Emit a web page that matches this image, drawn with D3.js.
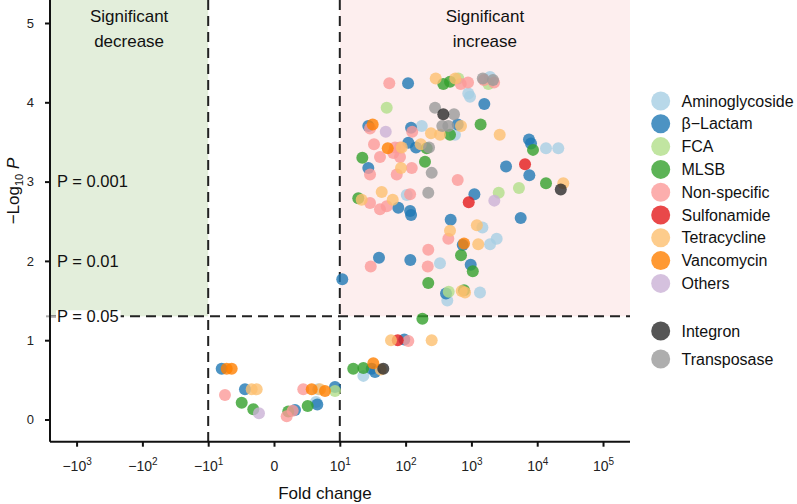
<!DOCTYPE html>
<html>
<head>
<meta charset="utf-8">
<script src="https://cdn.jsdelivr.net/npm/d3@7"></script>
<style>
  html, body { margin: 0; padding: 0; background: #fff; }
  svg { display: block; font-family: "Liberation Sans", Arial, sans-serif; }
</style>
</head>
<body>
<svg id="chart" width="797" height="504"></svg>
<script>
// ---------------- data ----------------
const categories = ["Aminoglycoside", "β\u2212Lactam", "FCA", "MLSB", "Non-specific",
  "Sulfonamide", "Tetracycline", "Vancomycin", "Others"];
const elements = ["Integron", "Transposase"];
const categoryColors = ["#a6cee3", "#1f78b4", "#b2df8a", "#33a02c", "#fb9a99",
  "#e31a1c", "#fdbf6f", "#ff7f00", "#cab2d6"];
const elementColors = ["#2b2b2b", "#9a9a9a"];

const xTickUnits = [-3, -2, -1, 0, 1, 2, 3, 4, 5];
const yTicks = [0, 1, 2, 3, 4, 5];
const pLines = [{ label: "P = 0.001", v: 3 }, { label: "P = 0.01", v: 2 }];
const pCut = 1.301; // P = 0.05

const aminoglycosideFC = [897, 952, 176, 563, 1920, 13600, 20900, 104, 1470, 2420, 333, 430, 1920, 1350, 22.8, 6.73, 6.38];
const aminoglycosideP  = [4.11, 4.07, 3.70, 3.59, 4.32, 3.42, 3.42, 2.83, 2.42, 2.28, 1.97, 1.50, 2.21, 1.60, 0.55, 0.38, 0.22];

const betaLactamFC = [109, 619, 27.1, 121, 110, 144, 1570, 7500, 8050, 27.1, 77.4, 117, 121, 484, 3360, 7590, 1110, 5610, 10.9, 39.4, 118, 738, 975, 411, -7.95, -4.41, 95.5, 30.5, 34.3, 9.27, 3.19, 6.58];
const betaLactamP  = [4.24, 3.72, 3.70, 3.68, 3.49, 3.43, 3.98, 3.53, 3.48, 3.17, 2.67, 2.63, 2.58, 2.52, 3.19, 3.08, 2.84, 2.54, 1.77, 2.04, 2.01, 2.20, 1.95, 1.59, 0.64, 0.38, 1.01, 0.64, 0.60, 0.41, 0.12, 0.19];

const fcaFC = [632, 51.6, 1810, 2600, 5280, 452, 9.27];
const fcaP  = [4.30, 3.93, 4.23, 2.86, 2.92, 1.61, 0.36];

const mlsbFC = [374, 473, 473, 209, 22, 197, 1380, 8630, 19.1, 13600, 221, 695, 1050, 772, 180, -4.91, -3.15, 16, 22.8, 2.17, 5.12];
const mlsbP  = [4.23, 4.26, 3.59, 3.42, 3.30, 3.25, 3.72, 3.40, 2.79, 2.98, 1.72, 2.07, 1.87, 1.63, 1.27, 0.21, 0.13, 0.64, 0.65, 0.10, 0.17];

const nonSpecificFC = [56.5, 688, 888, 1550, 2210, 28.8, 126, 33.1, 69, 82.2, 65, 40.8, 82.2, 28.8, 73.3, 124, 619, 28.8, 117, 40.8, 51.6, 446, 29.5, 221, 217, -7.45, 110, 4.45, 1.93, 2.84];
const nonSpecificP  = [4.24, 4.23, 4.25, 4.28, 4.25, 3.67, 3.63, 3.47, 3.43, 3.43, 3.36, 3.31, 3.31, 3.09, 3.09, 3.17, 3.02, 2.73, 2.84, 2.65, 2.69, 2.28, 1.93, 2.14, 1.93, 0.31, 0.99, 0.38, 0.04, 0.11];

const sulfonamideFC = [6530, 910, 75.9];
const sulfonamideP  = [3.22, 2.74, 1.00];

const tetracyclineFC = [287, 569, 695, 243, 333, 170, 87.3, 2690, 85.1, 43.3, 21.5, 63.7, 473, 24900, 1210, 1270, 712, 800, -3.39, -2.63, 60, 249, 41.9, 6.99];
const tetracyclineP  = [4.30, 4.30, 3.70, 3.61, 3.59, 3.47, 3.43, 3.59, 3.17, 2.87, 2.77, 2.77, 2.38, 2.98, 2.45, 2.21, 1.62, 1.60, 0.38, 0.38, 1.00, 1.00, 0.63, 0.38];

const vancomycinFC = [31.6, 53.5, 772, -7.19, -6.43, 32.3, 5.73, 7.75];
const vancomycinP  = [3.72, 3.42, 2.22, 0.64, 0.64, 0.71, 0.38, 0.36];

const othersFC = [49.9, 2230, -2.28];
const othersP  = [3.63, 2.76, 0.08];

const integronFC = [374, 22800, 45.8];
const integronP  = [3.85, 2.90, 0.64];

const transposaseFC = [280, 544, 361, 446, 227, 1490, 2130, 249, 221];
const transposaseP  = [3.93, 3.85, 3.70, 3.70, 3.43, 4.30, 4.28, 3.11, 2.86];

const categoryFC = [aminoglycosideFC, betaLactamFC, fcaFC, mlsbFC, nonSpecificFC, sulfonamideFC, tetracyclineFC, vancomycinFC, othersFC];
const categoryP  = [aminoglycosideP, betaLactamP, fcaP, mlsbP, nonSpecificP, sulfonamideP, tetracyclineP, vancomycinP, othersP];
const elementFC = [integronFC, transposaseFC];
const elementP  = [integronP, transposaseP];

// ---------------- layout ----------------
const svg = d3.select("#chart");
const pL = 50, pR = 630, pT = 0, pB = 441.7;
const ptAlpha = 0.8;

// symmetric log transform (linear inside ±10, one unit per decade outside)
function symT(v) {
  const a = Math.abs(v);
  return a <= 10 ? v / 10 : Math.sign(v) * Math.log10(a);
}
const xs = d3.scaleLinear().domain([-3.404, 5.41]).range([pL, pR]);
const ys = d3.scaleLinear().domain([-0.28, 5.29]).range([pB, pT]);
const X = v => xs(symT(v));

// shaded regions
svg.append("rect").attr("x", pL).attr("y", pT)
  .attr("width", X(-10) - pL).attr("height", ys(pCut) - pT)
  .attr("fill", "#e3eedb");
svg.append("rect").attr("x", X(10)).attr("y", pT)
  .attr("width", pR - X(10)).attr("height", ys(pCut) - pT)
  .attr("fill", "#fdeeee");

// dashed threshold lines
const dash = "10,6";
svg.append("line").attr("x1", pL).attr("x2", pR)
  .attr("y1", ys(pCut)).attr("y2", ys(pCut))
  .attr("stroke", "#222").attr("stroke-width", 2).attr("stroke-dasharray", dash);
[-10, 10].forEach(v => {
  svg.append("line").attr("x1", X(v)).attr("x2", X(v))
    .attr("y1", pT).attr("y2", pB)
    .attr("stroke", "#222").attr("stroke-width", 2).attr("stroke-dasharray", dash);
});

// region titles
function title(lines, cx) {
  const t = svg.append("text").attr("text-anchor", "middle")
    .attr("font-size", 17).attr("fill", "#111");
  lines.forEach((s, i) => t.append("tspan").attr("x", cx).attr("y", 22 + i * 25).text(s));
}
title(["Significant", "decrease"], (pL + X(-10)) / 2);
title(["Significant", "increase"], (X(10) + pR) / 2);

// P labels
pLines.forEach(d => {
  svg.append("text").attr("x", 57).attr("y", ys(d.v)).attr("dy", "0.35em")
    .attr("font-size", 16.5).attr("fill", "#111").text(d.label);
});
svg.append("line").attr("x1", 46).attr("x2", 57).attr("y1", ys(pCut)).attr("y2", ys(pCut))
  .attr("stroke", "#aaa").attr("stroke-width", 2);
const p05g = svg.append("g");
const p05bg = p05g.append("rect").attr("fill", "#fff");
const p05 = p05g.append("text").attr("x", 57).attr("y", ys(pCut)).attr("dy", "0.35em")
  .attr("font-size", 16.5).attr("fill", "#111").text("P = 0.05");
const bb = p05.node().getBBox();
p05bg.attr("x", bb.x - 1).attr("y", ys(pCut) - 6).attr("width", bb.width + 3).attr("height", 14);

// points
function drawSeries(fc, lp, color) {
  svg.append("g").selectAll("circle").data(fc.map((v, i) => [v, lp[i]])).join("circle")
    .attr("cx", d => X(d[0])).attr("cy", d => ys(d[1])).attr("r", 6)
    .attr("fill", color).attr("fill-opacity", ptAlpha);
}
categories.forEach((c, i) => drawSeries(categoryFC[i], categoryP[i], categoryColors[i]));
drawSeries(elementFC[1], elementP[1], elementColors[1]);
drawSeries(elementFC[0], elementP[0], elementColors[0]);

// axes
const xAxis = svg.append("g").attr("transform", `translate(0,${pB})`)
  .call(d3.axisBottom(xs).tickValues(xTickUnits).tickSize(5).tickPadding(8).tickFormat(() => ""));
xAxis.select(".domain").attr("stroke", "#111").attr("stroke-width", 2).attr("d", `M${pL},0H${pR}`);
xAxis.selectAll(".tick line").attr("stroke", "#111").attr("stroke-width", 2);
xAxis.selectAll(".tick text").each(function (u) {
  const t = d3.select(this).attr("font-size", 14).attr("fill", "#222")
    .attr("font-family", "'Liberation Sans', Arial, sans-serif").attr("y", 29).attr("dy", 0);
  if (u === 0) { t.text("0"); return; }
  t.append("tspan").text((u < 0 ? "\u2212" : "") + "10");
  t.append("tspan").attr("dy", -6).attr("font-size", 10).text(Math.abs(u));
});

const yAxis = svg.append("g").attr("transform", `translate(${pL},0)`)
  .call(d3.axisLeft(ys).tickValues(yTicks).tickSize(5).tickPadding(11).tickFormat(d3.format("d")));
yAxis.select(".domain").attr("stroke", "#111").attr("stroke-width", 2).attr("d", `M0,${pT}V${pB}`);
yAxis.selectAll(".tick line").attr("stroke", "#111").attr("stroke-width", 2);
yAxis.selectAll(".tick text").attr("font-size", 13).attr("fill", "#222")
  .attr("font-family", "'Liberation Sans', Arial, sans-serif");

// axis titles
svg.append("text").attr("x", (pL + pR) / 2 - 15).attr("y", 499).attr("text-anchor", "middle")
  .attr("font-size", 17).attr("fill", "#111").text("Fold change");
const yt = svg.append("text").attr("transform", "translate(19,191) rotate(-90)")
  .attr("text-anchor", "middle").attr("font-size", 17).attr("fill", "#111");
yt.append("tspan").text("\u2212Log");
yt.append("tspan").attr("font-size", 11).attr("dy", 4).text("10");
yt.append("tspan").attr("dy", -4).text(" ");
yt.append("tspan").attr("font-style", "italic").text("P");

// legend
const lgX = 660.7, lgTextX = 681.5, lgY0 = 101, lgStep = 22.8;
const legend = svg.append("g");
categories.forEach((c, i) => {
  const y = lgY0 + i * lgStep;
  legend.append("circle").attr("cx", lgX).attr("cy", y).attr("r", 9.5)
    .attr("fill", categoryColors[i]).attr("fill-opacity", ptAlpha);
  legend.append("text").attr("x", lgTextX).attr("y", y).attr("dy", "0.35em")
    .attr("font-size", 16).attr("fill", "#111").text(c);
});
elements.forEach((c, i) => {
  const y = 331 + i * 28;
  legend.append("circle").attr("cx", lgX).attr("cy", y).attr("r", 9.5)
    .attr("fill", elementColors[i]).attr("fill-opacity", ptAlpha);
  legend.append("text").attr("x", lgTextX).attr("y", y).attr("dy", "0.35em")
    .attr("font-size", 16).attr("fill", "#111").text(c);
});
</script>
</body>
</html>
